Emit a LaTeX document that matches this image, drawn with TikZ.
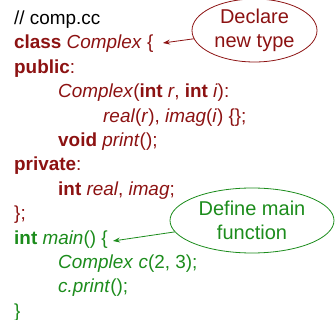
\documentclass[tikz,border=0pt]{standalone}
\usepackage{fontspec}
\setmainfont{Liberation Sans}
\usetikzlibrary{shapes.geometric,arrows.meta}
\definecolor{cred}{RGB}{140,18,18}
\definecolor{cgreen}{RGB}{28,140,28}
\begin{document}
\begin{tikzpicture}[x=1pt,y=-1pt,
  code/.style={anchor=base west,inner sep=0pt,font=\fontsize{18.9}{24}\selectfont},
  bubble/.style={ellipse,draw,line width=0.8pt,inner sep=0pt,align=center,
    font=\fontsize{20}{23.6}\selectfont},
  callout/.style={line width=0.8pt,-{Stealth[length=7pt,width=5pt]}}]
\useasboundingbox (0,0) rectangle (335,320);
\newcommand{\kw}[1]{\textbf{#1}}
\newcommand{\id}[1]{\textit{#1}}
% code lines
\node[code,text=black] (l1) at (14,24.5) {// comp.cc};
\node[code,text=cred] (l2) at (14,48.9) {\kw{class} \id{Complex} \{};
\node[code,text=cred] (l3) at (14,73.3) {\kw{public}:};
\node[code,text=cred] (l4) at (58,97.7) {\id{Complex}(\kw{int} \id{r}, \kw{int} \id{i}):};
\node[code,text=cred] (l5) at (103,122.1) {\id{real}(\id{r}), \id{imag}(\id{i}) \{\};};
\node[code,text=cred] (l6) at (58,146.5) {\kw{void} \id{print}();};
\node[code,text=cred] (l7) at (14,170.9) {\kw{private}:};
\node[code,text=cred] (l8) at (58,195.3) {\kw{int} \id{real}, \id{imag};};
\node[code,text=cred] (l9) at (14,219.7) {\};};
\node[code,text=cgreen] (l10) at (14,244.1) {\kw{int} \id{main}() \{};
\node[code,text=cgreen] (l11) at (58,268.5) {\id{Complex} \id{c}(2, 3);};
\node[code,text=cgreen] (l12) at (58,292.9) {\id{c.print}();};
\node[code,text=cgreen] (l13) at (14,317.3) {\}};
% callouts
\node[bubble,draw=cred,text=cred,minimum width=125pt,minimum height=63pt] (e1) at (254.5,30.5) {Declare\\new type};
\node[bubble,draw=cgreen,text=cgreen,minimum width=164pt,minimum height=65pt] (e2) at (252,220.5) {Define main\\function};
\coordinate (t1) at (163,43);
\coordinate (t2) at (113,241);
\draw[callout,draw=cred] (e1) -- (t1);
\draw[callout,draw=cgreen] (e2) -- (t2);
\end{tikzpicture}
\end{document}
